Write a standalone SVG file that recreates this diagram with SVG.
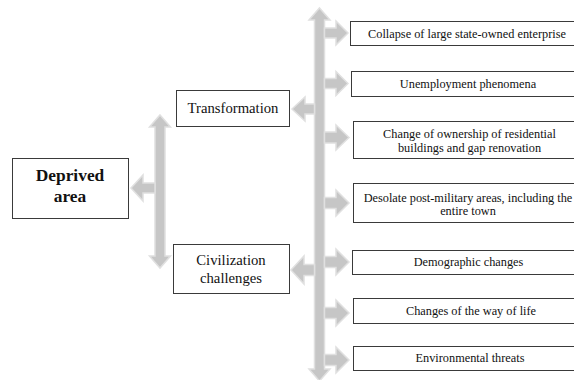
<svg xmlns="http://www.w3.org/2000/svg" width="574" height="380" viewBox="0 0 574 380">
<style>
.bg{fill:#ffffff}
.box{fill:#ffffff;stroke:#3a3a3a;stroke-width:1}
.arr{fill:#c6c6c6;stroke:#e0e0e0;stroke-width:1.5;stroke-linejoin:miter}
text{font-family:'Liberation Serif','Times New Roman','DejaVu Serif',serif;fill:#111;text-anchor:middle}
.s{font-size:12.3px}
.m{font-size:14.7px}
.b{font-size:17.4px;font-weight:bold}
</style>
<rect class="bg" x="0" y="0" width="574" height="380"/>
<g id="connectors">
  <path class="arr" d="M160,115 L170.5,127 L165,127 L165,256 L170.5,256 L160,268 L149.5,256 L155,256 L155,127 L149.5,127 Z"/>
  <path class="arr" d="M131,188 L143,175 L143,183 L155,183 L155,193 L143,193 L143,201 Z"/>
  <path class="arr" d="M319.5,8 L330,20 L324.5,20 L324.5,369 L330,369 L319.5,381 L309,369 L314.5,369 L314.5,20 L309,20 Z"/>
  <path class="arr" d="M292,109 L305,97 L305,104 L314.5,104 L314.5,114 L305,114 L305,121 Z"/>
  <path class="arr" d="M291,270 L304,256 L304,264.5 L314.5,264.5 L314.5,275.5 L304,275.5 L304,284 Z"/>
  <path class="arr" d="M324.5,28 L336,28 L336,21 L348,33 L336,45 L336,38 L324.5,38 Z"/>
  <path class="arr" d="M324.5,78.5 L336,78.5 L336,71.5 L348,83.5 L336,95.5 L336,88.5 L324.5,88.5 Z"/>
  <path class="arr" d="M324.5,132 L336,132 L336,125 L349,137.5 L336,150 L336,143 L324.5,143 Z"/>
  <path class="arr" d="M324.5,197.5 L336,197.5 L336,190 L349,203 L336,216 L336,208.5 L324.5,208.5 Z"/>
  <path class="arr" d="M324.5,256.5 L336,256.5 L336,249 L349,262 L336,275 L336,267.5 L324.5,267.5 Z"/>
  <path class="arr" d="M324.5,307.5 L336,307.5 L336,300 L349,313 L336,326 L336,318.5 L324.5,318.5 Z"/>
  <path class="arr" d="M324.5,354.5 L336,354.5 L336,347 L349,360 L336,373 L336,365.5 L324.5,365.5 Z"/>
</g>
<g id="deprived-area">
  <rect class="box" x="12.5" y="158.5" width="116" height="60"/>
  <text class="b" x="70" y="181">Deprived</text>
  <text class="b" x="70" y="202">area</text>
</g>
<g id="transformation">
  <rect class="box" x="176.5" y="90.5" width="113" height="36"/>
  <text class="m" x="233" y="113">Transformation</text>
</g>
<g id="civilization-challenges">
  <rect class="box" x="173.5" y="244.5" width="116" height="49"/>
  <text class="m" x="231" y="265">Civilization</text>
  <text class="m" x="231" y="283">challenges</text>
</g>
<g id="collapse">
  <rect class="box" x="350.5" y="21.5" width="236" height="24"/>
  <text class="s" x="467" y="37.5">Collapse of large state-owned enterprise</text>
</g>
<g id="unemployment">
  <rect class="box" x="351.5" y="71.5" width="236" height="25"/>
  <text class="s" x="468" y="88">Unemployment  phenomena</text>
</g>
<g id="ownership">
  <rect class="box" x="353.5" y="121.5" width="234" height="37"/>
  <text class="s" x="469.5" y="138">Change  of ownership of residential</text>
  <text class="s" x="469.5" y="152">buildings and gap renovation</text>
</g>
<g id="post-military">
  <rect class="box" x="353.5" y="183.5" width="234" height="39"/>
  <text class="s" x="468" y="202">Desolate post-military areas, including the</text>
  <text class="s" x="468" y="215">entire town</text>
</g>
<g id="demographic">
  <rect class="box" x="352.5" y="250.5" width="234" height="24"/>
  <text class="s" x="468.5" y="266">Demographic  changes</text>
</g>
<g id="way-of-life">
  <rect class="box" x="353.5" y="298.5" width="234" height="25"/>
  <text class="s" x="471" y="315">Changes  of the way of life</text>
</g>
<g id="environmental">
  <rect class="box" x="353.5" y="346.5" width="234" height="24"/>
  <text class="s" x="470" y="362">Environmental  threats</text>
</g>
</svg>
